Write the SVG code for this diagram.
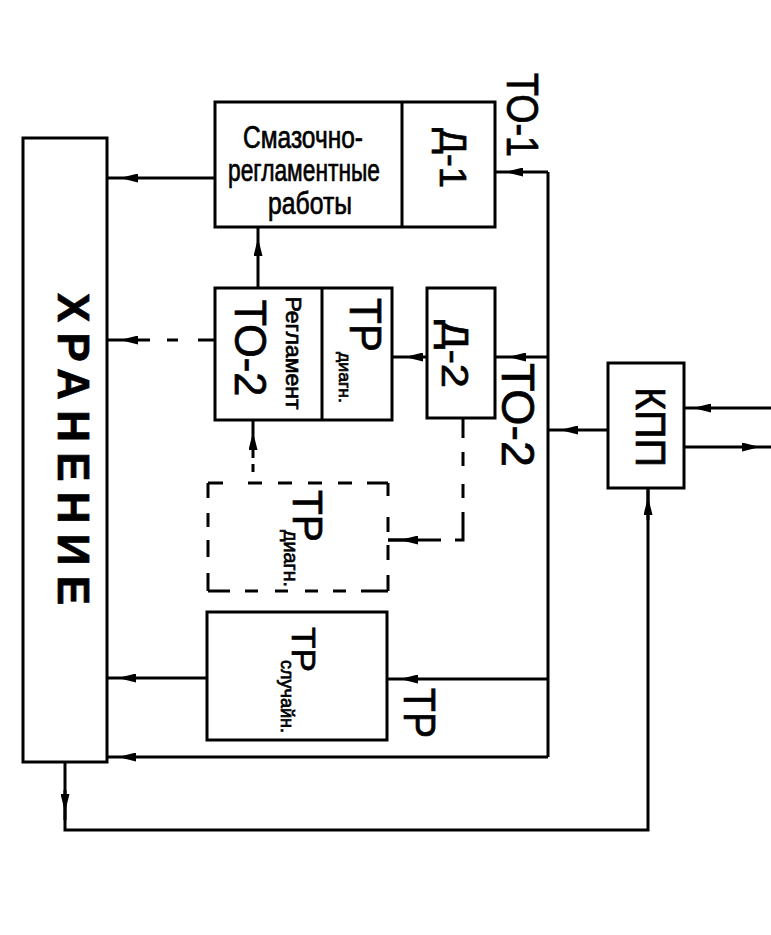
<svg xmlns="http://www.w3.org/2000/svg" width="771" height="935" viewBox="0 0 771 935">
<defs>
<style>
.box{fill:#fff;stroke:#000;stroke-width:3}
.dl{fill:none;stroke:#000;stroke-width:3}
.ln{fill:none;stroke:#000;stroke-width:3;marker-mid:url(#ah)}
.pl{fill:none;stroke:#000;stroke-width:3}
text{font-family:"Liberation Sans",Arial,sans-serif;fill:#000;stroke:#000;stroke-width:0.7}
</style>
<marker id="ah" markerUnits="userSpaceOnUse" markerWidth="18" markerHeight="9" refX="18" refY="4.5" orient="auto" viewBox="0 0 18 9"><path d="M0,0 L18,4.5 L0,9 z" fill="#000"/></marker>
</defs>
<rect width="771" height="935" fill="#fff"/>

<g id="connectors">
  <path class="pl" d="M548,172 V757"/>
  <path class="ln" d="M548,172 L505,172 L495,172"/>
  <path class="ln" d="M548,357 L508,357 L495,357"/>
  <path class="ln" d="M548,679 L400,679 L387,679"/>
  <path class="ln" d="M548,757 L118,757 L107,757"/>
  <path class="ln" d="M608,430 L560,430 L548,430"/>
  <path class="ln" d="M771,408 L693,408 L684,408"/>
  <path class="ln" d="M684,447 L760,447 L771,447"/>
  <path class="ln" d="M427,357 L405,357 L392,357"/>
  <path class="ln" d="M215,178 L120,178 L107,178"/>
  <path class="ln" d="M215,340 L120,340 L107,340" stroke-dasharray="17 20 11 17 200"/>
  <path class="ln" d="M207,678 L118,678 L107,678"/>
  <path class="ln" d="M258,288 L258,238 L258,227"/>
  <path class="ln" d="M253,483 L253,432 L253,420" stroke-dasharray="0 11 8 6 80"/>
  <path class="pl" d="M463,418 V540 H388" stroke-dasharray="20 14 14 18 14 14 36 14 80"/>
  <path class="ln" d="M410,540 L400,540 L388,540"/>
  <path class="pl" d="M65,762 V830 H648 V488"/>
  <path class="ln" d="M65,790 L65,812 L65,820"/>
  <path class="ln" d="M648,520 L648,497 L648,490"/>
</g>

<g id="hranenie">
  <rect class="box" x="23" y="138" width="84" height="624"/>
  <text transform="translate(58,449) rotate(90)" font-size="44" font-weight="bold" stroke-width="0" text-anchor="middle" textLength="312" lengthAdjust="spacing">ХРАНЕНИЕ</text>
</g>

<g id="smazochno">
  <rect class="box" x="215" y="102" width="280" height="125"/>
  <line class="pl" x1="402" y1="102" x2="402" y2="227"/>
  <text x="303" y="148" font-size="31" text-anchor="middle" textLength="120" lengthAdjust="spacingAndGlyphs">Смазочно-</text>
  <text x="304" y="181" font-size="31" text-anchor="middle" textLength="152" lengthAdjust="spacingAndGlyphs">регламентные</text>
  <text x="310" y="214" font-size="31" text-anchor="middle" textLength="84" lengthAdjust="spacingAndGlyphs">работы</text>
  <text transform="translate(440,158) rotate(90)" font-size="37" text-anchor="middle" textLength="60" lengthAdjust="spacingAndGlyphs">Д-1</text>
</g>

<g id="label-to1">
  <text transform="translate(507,115) rotate(90)" font-size="44" text-anchor="middle" textLength="84" lengthAdjust="spacingAndGlyphs">ТО-1</text>
</g>

<g id="to2">
  <rect class="box" x="215" y="288" width="177" height="132"/>
  <line class="pl" x1="322" y1="288" x2="322" y2="420"/>
  <text transform="translate(235,348) rotate(90)" font-size="44" text-anchor="middle" textLength="97" lengthAdjust="spacingAndGlyphs">ТО-2</text>
  <text transform="translate(286,353) rotate(90)" font-size="22" text-anchor="middle" textLength="113" lengthAdjust="spacingAndGlyphs">Регламент</text>
  <text transform="translate(350,298) rotate(90)" font-size="44" textLength="54" lengthAdjust="spacingAndGlyphs">ТР</text>
  <text transform="translate(339,352) rotate(90)" font-size="17" textLength="51" lengthAdjust="spacingAndGlyphs">диагн.</text>
</g>

<g id="d2">
  <rect class="box" x="427" y="288" width="68" height="130"/>
  <text transform="translate(442,354) rotate(90)" font-size="36" text-anchor="middle" textLength="68" lengthAdjust="spacingAndGlyphs">Д-2</text>
</g>

<g id="label-to2">
  <text transform="translate(502,415) rotate(90)" font-size="46" text-anchor="middle" textLength="104" lengthAdjust="spacingAndGlyphs">ТО-2</text>
</g>

<g id="kpp">
  <rect class="box" x="608" y="363" width="76" height="125"/>
  <text transform="translate(636,427) rotate(90)" font-size="43" text-anchor="middle" textLength="80" lengthAdjust="spacingAndGlyphs">КПП</text>
</g>

<g id="tr-diagn-dashed">
  <rect x="208" y="483" width="180" height="108" fill="#fff"/>
  <path class="dl" d="M208,483 H388" stroke-dasharray="15 25 14 16 14 16 14 16 14 15 30"/>
  <path class="dl" d="M208,591 H388" stroke-dasharray="22 15 13 17 13 17 13 15 13 15 30"/>
  <path class="dl" d="M208,483 V591" stroke-dasharray="15 15 14 13 17 16 30"/>
  <path class="dl" d="M388,483 V591" stroke-dasharray="13 21 15 13 15 15 30"/>
  <text transform="translate(293,490) rotate(90)" font-size="42" textLength="52" lengthAdjust="spacingAndGlyphs">ТР</text>
  <text transform="translate(284,530) rotate(90)" font-size="20" textLength="57" lengthAdjust="spacingAndGlyphs">диагн.</text>
</g>

<g id="tr-sluch">
  <rect class="box" x="207" y="612" width="180" height="128"/>
  <text transform="translate(292,627) rotate(90)" font-size="34" textLength="45" lengthAdjust="spacingAndGlyphs">ТР</text>
  <text transform="translate(281,660) rotate(90)" font-size="18" textLength="73" lengthAdjust="spacingAndGlyphs">случайн.</text>
</g>

<g id="label-tr">
  <text transform="translate(404,713) rotate(90)" font-size="44" text-anchor="middle" textLength="50" lengthAdjust="spacingAndGlyphs">ТР</text>
</g>
</svg>
